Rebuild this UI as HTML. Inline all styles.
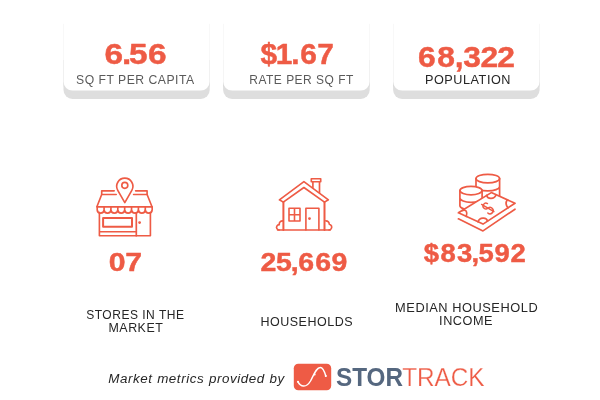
<!DOCTYPE html>
<html lang="en">
<head>
<meta charset="utf-8">
<title>Market metrics</title>
<style>
html,body{margin:0;padding:0;background:#fff;}
body{width:600px;height:400px;position:relative;overflow:hidden;font-family:"Liberation Sans",sans-serif;}
svg{position:absolute;left:0;top:0;}
text{font-family:"Liberation Sans",sans-serif;}
.big{font-weight:bold;fill:#ee5b45;stroke:#ee5b45;stroke-width:.45;stroke-linejoin:round;}
.lab{fill:#5a5a5a;letter-spacing:.5px;}
.dk{fill:#262626;letter-spacing:.5px;}
</style>
</head>
<body>
<svg width="600" height="400" viewBox="0 0 600 400">
<!-- cards -->
<path d="M63.5 60H209.7V89.95A9 9 0 0 1 200.70 98.95H72.50A9 9 0 0 1 63.5 89.95Z" fill="#dedede"/>
<path d="M63.5 23H209.7V81.60A9 9 0 0 1 200.70 90.60H72.50A9 9 0 0 1 63.5 81.60Z" fill="#fff"/>
<path d="M63.5 23.8V86.6M209.5 23.8V86.6" stroke="#000" stroke-opacity=".026" stroke-width="1" fill="none"/>
<path d="M223.1 60H369.7V89.95A9 9 0 0 1 360.70 98.95H232.10A9 9 0 0 1 223.1 89.95Z" fill="#dedede"/>
<path d="M223.1 23H369.7V81.60A9 9 0 0 1 360.70 90.60H232.10A9 9 0 0 1 223.1 81.60Z" fill="#fff"/>
<path d="M223.5 23.8V86.6M369.5 23.8V86.6" stroke="#000" stroke-opacity=".026" stroke-width="1" fill="none"/>
<path d="M393.1 60H539.6V89.95A9 9 0 0 1 530.60 98.95H402.10A9 9 0 0 1 393.1 89.95Z" fill="#dedede"/>
<path d="M393.1 23H539.6V81.60A9 9 0 0 1 530.60 90.60H402.10A9 9 0 0 1 393.1 81.60Z" fill="#fff"/>
<path d="M393.5 23.8V86.6M539.5 23.8V86.6" stroke="#000" stroke-opacity=".026" stroke-width="1" fill="none"/>
<!-- card texts -->
<text class="big" transform="scale(1.1396,1)" x="91.63 106.95 113.30 129.92" y="64" font-size="29.3">6.56</text>
<text class="lab" x="76" y="83.9" font-size="12.2" textLength="118.6" lengthAdjust="spacingAndGlyphs">SQ FT PER CAPITA</text>
<text class="big" transform="scale(1.02,1)" x="255.50 270.31 285.46 294.42 311.09" y="64" font-size="29.3">$1.67</text>
<text class="lab" x="249.3" y="83.9" font-size="12.2" textLength="104.5" lengthAdjust="spacingAndGlyphs">RATE PER SQ FT</text>
<text class="big" transform="scale(1.0845,1)" x="385.43 403.08 419.23 427.12 442.96 458.54" y="67.4" font-size="29.3">68,322</text>
<text class="dk" x="425" y="83.9" font-size="12.1" textLength="86" lengthAdjust="spacingAndGlyphs">POPULATION</text>
<!-- mid row -->
<text class="big" transform="scale(1.1941,1)" x="90.97 104.92" y="271.5" font-size="25.3">07</text>
<text class="big" transform="scale(1.1253,1)" x="231.51 245.31 258.32 265.16 280.09 294.61" y="271.5" font-size="25.3">25,669</text>
<text class="big" transform="scale(1.0852,1)" x="390.56 406.02 421.22 434.60 441.05 455.68 470.37" y="261.6" font-size="25.3">$83,592</text>
<text class="dk" x="86.2" y="318.8" font-size="12.2" textLength="98.3" lengthAdjust="spacingAndGlyphs">STORES IN THE</text>
<text class="dk" x="108.5" y="331.7" font-size="12.2" textLength="54.8" lengthAdjust="spacingAndGlyphs">MARKET</text>
<text class="dk" x="260.4" y="325.9" font-size="12.1" textLength="92.8" lengthAdjust="spacingAndGlyphs">HOUSEHOLDS</text>
<text class="dk" x="395.1" y="312.2" font-size="12" textLength="143.1" lengthAdjust="spacingAndGlyphs">MEDIAN HOUSEHOLD</text>
<text class="dk" x="439.1" y="324.6" font-size="12" textLength="54" lengthAdjust="spacingAndGlyphs">INCOME</text>

<!-- store icon -->
<g fill="none" stroke="#ee5b45" stroke-width="1.65" stroke-linejoin="round" stroke-linecap="round">
<path d="M124.8 202.6L117.77 190.3A8.1 8.1 0 1 1 131.83 190.3Z"/>
<circle cx="124.8" cy="185.3" r="3" stroke-width="1.65"/>
<path d="M114.2 190.8H101.7V194.5H116.2M135.6 190.8H147.1V194.5H133.6"/>
<path d="M101.7 194.5L96.9 206.8H152L147.1 194.5"/>
<path d="M97.20 206.8v3.1a3.44 3.44 0 0 0 6.87 0v-3.1M104.07 206.8v3.1a3.44 3.44 0 0 0 6.87 0v-3.1M110.94 206.8v3.1a3.44 3.44 0 0 0 6.87 0v-3.1M117.81 206.8v3.1a3.44 3.44 0 0 0 6.87 0v-3.1M124.68 206.8v3.1a3.44 3.44 0 0 0 6.87 0v-3.1M131.55 206.8v3.1a3.44 3.44 0 0 0 6.87 0v-3.1M138.42 206.8v3.1a3.44 3.44 0 0 0 6.87 0v-3.1M145.29 206.8v3.1a3.44 3.44 0 0 0 6.87 0v-3.1"/>
<path d="M99.4 212.5V235.7H150.4V212.5M99.4 231.7H136.3"/>
<path d="M136.3 213V235.7" stroke-width="1.7"/>
<rect x="103.1" y="218" width="28.9" height="8.7" stroke-width="2"/>
<circle cx="139.6" cy="222.6" r="0.6" fill="#ee5b45"/>
</g>

<!-- house icon -->
<g fill="none" stroke="#ee5b45" stroke-width="1.65" stroke-linejoin="round" stroke-linecap="round">
<path d="M279.4 199.8L303.9 181.6L328.4 199.8L324.5 202.1L303.9 187.5L283.3 202.1Z"/>
<path d="M311.3 178.7H320.7V181.7H311.3ZM312.9 181.7V187.6M319.5 181.7V192.8"/>
<path d="M283.4 202.1V230" stroke-width="2"/>
<path d="M324.5 202.1V230" stroke-width="2"/>
<path d="M277.6 230H330.2"/>
<path d="M289 208.2H300V221H289ZM294.5 208.2V221M289 214.7H300" stroke-width="1.6"/>
<path d="M305.9 230V208.2H318.9V230" stroke-width="1.6"/>
<circle cx="309.5" cy="218.6" r="0.6" fill="#ee5b45"/>
<path d="M282.8 220.8C280.3 220.8 278.9 222.6 279.3 224.6C277 224.8 275.9 227 276.9 228.6C277.4 229.5 278.2 230 279.2 230"/>
<path d="M325.8 220.8C328 220.8 329.4 222.4 329.2 224.2C331.4 224.6 332.3 227 331.3 228.6C330.8 229.5 330 230 329 230"/>
</g>

<!-- money icon -->
<defs><clipPath id="cb"><path d="M440 160H530V203.3H515.0L491.30 192.60L458.40 212.80H440Z"/></clipPath></defs>
<g fill="none" stroke="#ee5b45" stroke-width="1.7" stroke-linejoin="round" stroke-linecap="round">
<g clip-path="url(#cb)">
<ellipse cx="487.8" cy="178.6" rx="11.8" ry="4.3"/>
<path d="M476 178.6V200M499.6 178.6V200M476 186.6A11.8 4.3 0 0 0 499.6 186.6M476 194.8A11.8 4.3 0 0 0 499.6 194.8"/>
<path d="M459.9 190.6V215H482.1V190.6Z" fill="#fff" stroke="none"/>
<ellipse cx="471" cy="190.6" rx="11.1" ry="4.2" fill="#fff"/>
<path d="M459.9 190.6V205.7A11.1 4.2 0 0 0 471 209.9M482.1 190.6V204M459.9 198.1A11.1 4.2 0 0 0 482.1 198.1M459.9 205.7A11.1 4.2 0 0 0 482.1 205.7"/>
</g>
<path d="M458.40 212.80L491.30 192.60L515.00 203.30L483.00 224.10Z" fill="#fff"/>
<path d="M458.40 218.80L483.00 230.90L515.00 209.20"/>
<path d="M462.02 210.58Q468.40 208.80 466.27 216.42M507.27 199.81Q504.60 204.00 507.96 207.88"/>
<path d="M486.69 195.43C487.3 199.3 494.6 199.6 496.04 194.74M478.08 221.84C479.4 217.2 486.6 217 487.48 221.19"/>
<path d="M481.6 204.4L493.9 211.6" stroke-width="1.45"/>
<path d="M487.5 203.6A2.9 2.9 0 1 0 488 208.1A3.2 3.2 0 1 1 487.8 212.9" stroke-width="1.45"/>
</g>
<!-- footer -->
<text class="dk" x="108.2" y="382.8" font-size="12.3" font-style="italic" letter-spacing="0" word-spacing="0.45" textLength="176.5" lengthAdjust="spacingAndGlyphs">Market metrics provided by</text>
<rect x="293.8" y="363.8" width="37.4" height="26.4" rx="4.5" fill="#ee5b45"/>
<path d="M298 381.8C300.5 386.6 306 388.6 310.5 381C314 374.5 316.2 367.4 320.4 367.4C323.4 367.4 324.8 372.5 325.8 376" fill="none" stroke="#fff" stroke-width="1.45" stroke-linecap="round"/>
<circle cx="298" cy="381.8" r="1.05" fill="#fff"/><circle cx="314.6" cy="374.4" r="1.05" fill="#fff"/><circle cx="325.8" cy="376" r="1.05" fill="#fff"/>
<text x="336" y="386.4" font-size="25.3" font-weight="bold" fill="#55677f" textLength="67" lengthAdjust="spacingAndGlyphs">STOR</text>
<text x="402.2" y="386.4" font-size="25.3" fill="#ee5b45" stroke="#fff" stroke-width="0.25" textLength="82.4" lengthAdjust="spacingAndGlyphs">TRACK</text>
</svg>
</body>
</html>
